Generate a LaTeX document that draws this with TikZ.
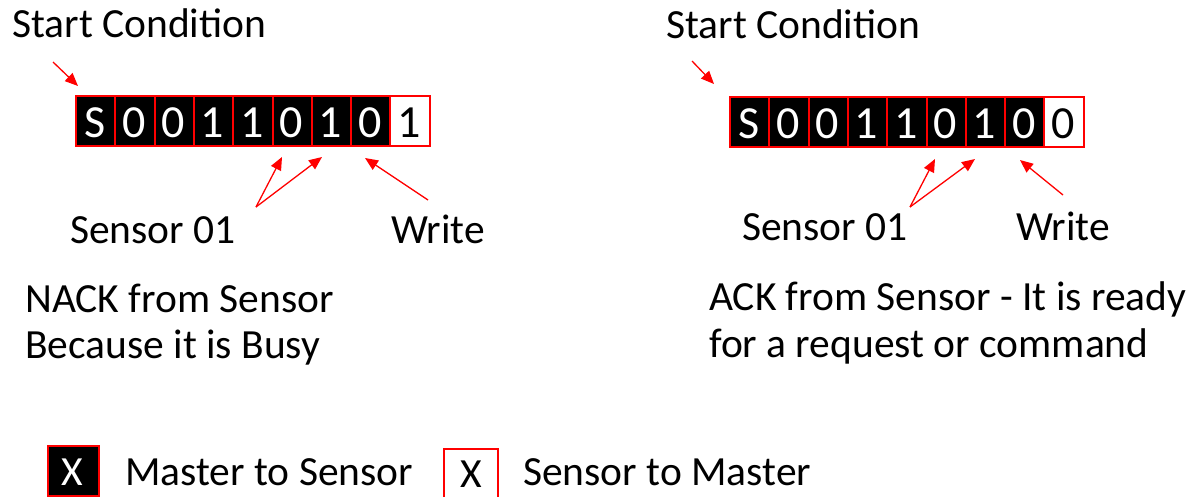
\documentclass[tikz,border=0pt]{standalone}
\usepackage{fontspec}
\setmainfont{Carlito}
\usetikzlibrary{arrows.meta}
\definecolor{myred}{RGB}{255,0,0}
\tikzset{
  cellblk/.style={draw=myred,line width=2pt,fill=black,minimum width=39.3pt,minimum height=50pt,inner sep=0pt,anchor=north west},
  cellwht/.style={draw=myred,line width=2pt,fill=white,minimum width=39.3pt,minimum height=50pt,inner sep=0pt,anchor=north west},
  digw/.style={text=white,font=\fontsize{46}{50}\selectfont,anchor=base,inner sep=0pt},
  digb/.style={text=black,font=\fontsize{46}{50}\selectfont,anchor=base,inner sep=0pt},
  lbl/.style={anchor=base west,inner sep=0pt,font=\fontsize{41.5}{46}\selectfont},
  legx/.style={anchor=base,inner sep=0pt,font=\fontsize{41.5}{46}\selectfont},
  redarrow/.style={draw=myred,line width=1.3pt,-{Triangle[length=13pt,width=11pt]}},
}
\begin{document}
\begin{tikzpicture}[x=1pt,y=-1pt]
\useasboundingbox (0,0) rectangle (1202,496);
% left row
\foreach \b [count=\i from 0] in {S,0,0,1,1,0,1,0} {
  \node[cellblk] (L\i) at ({75+39.3*\i},95) {};
  \node[digw] at ({75+39.3*\i+19.65},137) {\b};
}
\node[cellwht] (L8) at ({75+39.3*8},95) {};
\node[digb] at ({75+39.3*8+19.65},137) {1};
% right row
\foreach \b [count=\i from 0] in {S,0,0,1,1,0,1,0} {
  \node[cellblk] (R\i) at ({729+39.3*\i},96) {};
  \node[digw] at ({729+39.3*\i+19.65},138) {\b};
}
\node[cellwht] (R8) at ({729+39.3*8},96) {};
\node[digb] at ({729+39.3*8+19.65},138) {0};
% labels left
\node[lbl] (scL) at (12,37) {Start Condition};
\node[lbl] (s01L) at (70,243) {Sensor 01};
\node[lbl] (wrL) at (391,243) {Write};
\node[lbl] (nack1) at (25,312) {NACK from Sensor};
\node[lbl] (nack2) at (25,358) {Because it is Busy};
% labels right
\node[lbl] (scR) at (666,38) {Start Condition};
\node[lbl] (s01R) at (742,240) {Sensor 01};
\node[lbl] (wrR) at (1016,240) {Write};
\node[lbl] (ack1) at (709,310) {ACK from Sensor - It is ready};
\node[lbl] (ack2) at (709,357) {for a request or command};
% arrows left
\coordinate (aL0) at (53,62);   \coordinate (tL0) at (78,86);
\coordinate (aL1) at (256,207); \coordinate (tL1) at (282,157);
\coordinate (tL2) at (322,157);
\coordinate (aL3) at (428,200); \coordinate (tL3) at (365,158);
\draw[redarrow] (aL0) -- (tL0);
\draw[redarrow] (aL1) -- (tL1);
\draw[redarrow] (aL1) -- (tL2);
\draw[redarrow] (aL3) -- (tL3);
% arrows right
\coordinate (aR0) at (692,61);  \coordinate (tR0) at (714,84);
\coordinate (aR1) at (910,207); \coordinate (tR1) at (935,159);
\coordinate (tR2) at (975,159);
\coordinate (aR3) at (1063,195); \coordinate (tR3) at (1020,160);
\draw[redarrow] (aR0) -- (tR0);
\draw[redarrow] (aR1) -- (tR1);
\draw[redarrow] (aR1) -- (tR2);
\draw[redarrow] (aR3) -- (tR3);
% legend
\node[draw=myred,line width=2pt,fill=black,minimum width=51pt,minimum height=50pt,inner sep=0pt,anchor=north west] (legB) at (47,445) {};
\node[legx,text=white] at (72.5,485) {X};
\node[lbl] (legBt) at (125,485) {Master to Sensor};
\node[draw=myred,line width=2pt,fill=white,minimum width=54pt,minimum height=54pt,inner sep=0pt,anchor=north west] (legW) at (443,448) {};
\node[legx,text=black] at (471,487) {X};
\node[lbl] (legWt) at (523,485) {Sensor to Master};
\end{tikzpicture}
\end{document}
